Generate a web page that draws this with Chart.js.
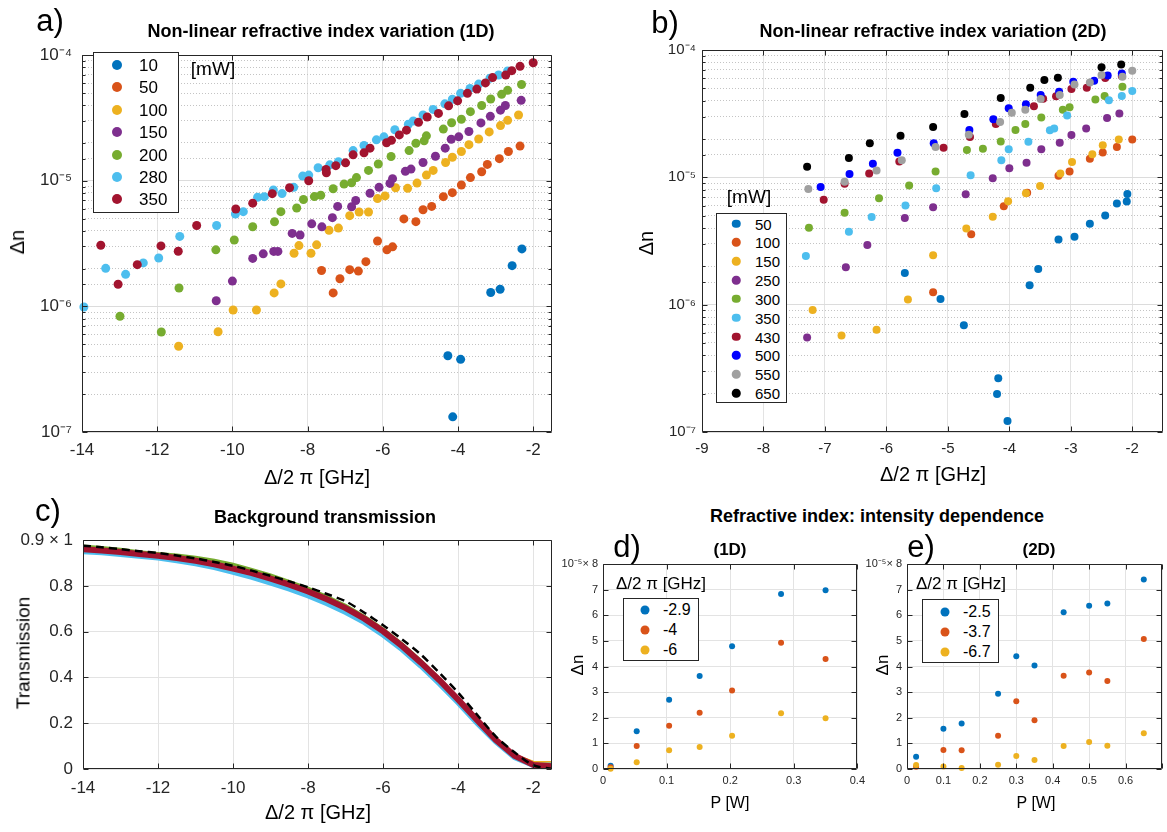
<!DOCTYPE html>
<html>
<head>
<meta charset="utf-8">
<title>Non-linear refractive index</title>
<script src="https://cdn.jsdelivr.net/npm/chart.js@4.4.1/dist/chart.umd.min.js"></script>
<style>
  body { margin: 0; background: #fff; }
  #fig { position: relative; width: 1167px; height: 832px; overflow: hidden; font-family: "Liberation Sans", Arial, sans-serif; color: #000; }
  #fig canvas { position: absolute; }
  .t { position: absolute; white-space: nowrap; line-height: 1; transform: translate(-50%, -50%); }
  .rot { transform: translate(-50%, -50%) rotate(-90deg); }
  .b { font-weight: bold; }
  .leg { position: absolute; background: #fff; border: 1px solid #262626; box-sizing: border-box; }
  .dot { position: absolute; border-radius: 50%; transform: translate(-50%, -50%); }
  .lab { position: absolute; transform: translateY(-50%); line-height: 1; white-space: nowrap; }
</style>
</head>
<body>
<div id="fig">
  <canvas id="chartA" width="565" height="435" style="left:0;top:35px"></canvas>
  <canvas id="chartB" width="567" height="435" style="left:600px;top:35px"></canvas>
  <canvas id="chartC" width="565" height="290" style="left:0;top:520px"></canvas>
  <canvas id="chartD" width="310" height="250" style="left:560px;top:550px"></canvas>
  <canvas id="chartE" width="301" height="250" style="left:866px;top:550px"></canvas>

  <div class="t" style="left:50px;top:20px;font-size:31px">a)</div>
  <div class="t b" style="left:321px;top:31px;font-size:18px">Non-linear refractive index variation (1D)</div>
  <div class="t" style="left:665px;top:22px;font-size:31px">b)</div>
  <div class="t b" style="left:933px;top:31px;font-size:18px">Non-linear refractive index variation (2D)</div>
  <div class="t rot" style="left:17px;top:242px;font-size:20px">Δn</div>
  <div class="t rot" style="left:646px;top:243px;font-size:20px">Δn</div>
  <div class="t" style="left:317px;top:477px;font-size:20px">Δ/2 π [GHz]</div>
  <div class="t" style="left:933px;top:474px;font-size:20px">Δ/2 π [GHz]</div>
  <div class="t" style="left:213px;top:68px;font-size:19px">[mW]</div>
  <div class="t" style="left:749px;top:196px;font-size:19px">[mW]</div>

  <div class="t" style="left:48px;top:510px;font-size:31px">c)</div>
  <div class="t b" style="left:325px;top:517px;font-size:18px">Background transmission</div>
  <div class="t rot" style="left:23px;top:653px;font-size:19px">Transmission</div>
  <div class="t" style="left:318px;top:812px;font-size:20px">Δ/2 π [GHz]</div>

  <div class="t b" style="left:877px;top:516px;font-size:18px">Refractive index: intensity dependence</div>
  <div class="t" style="left:627px;top:546px;font-size:31px">d)</div>
  <div class="t b" style="left:730px;top:549px;font-size:17px">(1D)</div>
  <div class="t" style="left:921px;top:546px;font-size:31px">e)</div>
  <div class="t b" style="left:1039px;top:549px;font-size:17px">(2D)</div>
  <div class="t rot" style="left:577px;top:665px;font-size:17px">Δn</div>
  <div class="t rot" style="left:882px;top:665px;font-size:17px">Δn</div>
  <div class="t" style="left:730px;top:803px;font-size:16px">P [W]</div>
  <div class="t" style="left:1036px;top:803px;font-size:16px">P [W]</div>
  <div class="t" style="left:661px;top:583px;font-size:17px">Δ/2 π [GHz]</div>
  <div class="t" style="left:961px;top:583px;font-size:17px">Δ/2 π [GHz]</div>
</div>
<script>
const FONT = '"Liberation Sans", Arial, sans-serif';

// ---- a) 1D: [detuning GHz, delta n], power in mW
const aPowers = ['10', '50', '100', '150', '200', '280', '350'];
const aColors = ['#0072BD', '#D95319', '#EDB120', '#7E2F8E', '#77AC30', '#4DBEEE', '#A2142F'];
const a10 = [[-4.27,4.05e-7],[-4.14,1.32e-7],[-3.93,3.79e-7],[-3.13,1.29e-6],[-2.88,1.37e-6],[-2.56,2.11e-6],[-2.30,2.87e-6]];
const a50 = [[-7.63,1.93e-6],[-7.32,1.28e-6],[-7.14,1.66e-6],[-6.88,1.96e-6],[-6.65,1.91e-6],[-6.45,2.27e-6],[-6.14,3.32e-6],[-5.89,2.82e-6],[-5.74,2.98e-6],[-5.44,4.97e-6],[-5.12,4.73e-6],[-4.93,5.88e-6],[-4.70,6.25e-6],[-4.39,7.48e-6],[-4.15,8.05e-6],[-3.91,9.25e-6],[-3.67,1.06e-5],[-3.37,1.18e-5],[-3.22,1.35e-5],[-2.90,1.50e-5],[-2.66,1.71e-5],[-2.35,1.89e-5]];
const a100 = [[-11.43,4.82e-7],[-10.38,6.28e-7],[-9.98,9.36e-7],[-9.36,9.36e-7],[-8.89,1.28e-6],[-8.71,1.51e-6],[-8.36,2.65e-6],[-8.23,3.05e-6],[-7.91,2.65e-6],[-7.76,3.09e-6],[-7.43,4.03e-6],[-7.18,4.20e-6],[-6.88,5.28e-6],[-6.63,5.64e-6],[-6.38,5.64e-6],[-6.14,7.22e-6],[-5.94,7.58e-6],[-5.66,8.81e-6],[-5.34,8.71e-6],[-5.09,9.59e-6],[-4.84,1.11e-5],[-4.66,1.21e-5],[-4.33,1.40e-5],[-4.15,1.54e-5],[-3.91,1.71e-5],[-3.71,1.94e-5],[-3.45,2.15e-5],[-3.17,2.45e-5],[-2.87,2.75e-5],[-2.68,3.03e-5],[-2.39,3.34e-5]];
const a150 = [[-10.43,1.11e-6],[-10.00,1.59e-6],[-9.46,2.41e-6],[-9.18,2.62e-6],[-8.90,2.74e-6],[-8.79,2.74e-6],[-8.41,3.81e-6],[-8.20,3.70e-6],[-7.89,4.54e-6],[-7.62,4.30e-6],[-7.34,5.09e-6],[-7.20,6.25e-6],[-6.83,6.21e-6],[-6.72,6.97e-6],[-6.34,7.96e-6],[-6.10,8.87e-6],[-5.81,9.53e-6],[-5.74,1.04e-5],[-5.40,1.19e-5],[-5.25,1.24e-5],[-4.93,1.40e-5],[-4.60,1.57e-5],[-4.34,1.82e-5],[-4.18,2.14e-5],[-3.98,2.24e-5],[-3.71,2.47e-5],[-3.39,2.89e-5],[-3.14,3.26e-5],[-2.87,3.65e-5],[-2.74,3.98e-5],[-2.32,4.37e-5]];
const a200 = [[-12.99,8.34e-7],[-11.89,6.25e-7],[-11.42,1.40e-6],[-10.44,2.82e-6],[-9.95,3.38e-6],[-9.46,4.31e-6],[-8.88,4.71e-6],[-8.71,5.68e-6],[-8.29,6.07e-6],[-8.11,7.10e-6],[-7.82,7.49e-6],[-7.65,7.67e-6],[-7.32,8.65e-6],[-7.03,9.42e-6],[-6.83,9.64e-6],[-6.70,1.06e-5],[-6.38,1.21e-5],[-6.12,1.36e-5],[-5.78,1.56e-5],[-5.30,1.74e-5],[-5.12,1.99e-5],[-4.90,2.08e-5],[-4.84,2.28e-5],[-4.39,2.58e-5],[-4.17,2.90e-5],[-3.91,3.09e-5],[-3.67,3.55e-5],[-3.37,3.98e-5],[-3.13,4.48e-5],[-2.84,4.88e-5],[-2.68,5.25e-5],[-2.31,5.85e-5]];
const a280 = [[-13.95,9.9e-7],[-13.37,2.01e-6],[-12.84,1.80e-6],[-12.37,2.22e-6],[-11.96,2.43e-6],[-11.40,3.61e-6],[-10.42,4.41e-6],[-9.92,5.44e-6],[-9.71,5.68e-6],[-9.33,7.40e-6],[-9.15,7.48e-6],[-8.91,8.45e-6],[-8.68,7.91e-6],[-8.37,8.87e-6],[-8.13,1.09e-5],[-7.97,1.11e-5],[-7.72,1.27e-5],[-7.41,1.34e-5],[-7.18,1.42e-5],[-6.79,1.74e-5],[-6.50,1.91e-5],[-6.17,2.12e-5],[-5.97,2.24e-5],[-5.68,2.55e-5],[-5.32,2.82e-5],[-5.19,2.99e-5],[-4.93,3.34e-5],[-4.66,3.70e-5],[-4.35,4.10e-5],[-4.15,4.46e-5],[-3.93,4.97e-5],[-3.68,5.44e-5],[-3.45,5.89e-5],[-3.15,6.56e-5],[-2.92,6.96e-5],[-2.68,7.48e-5]];
const a350 = [[-13.50,3.07e-6],[-13.04,1.50e-6],[-12.53,2.15e-6],[-11.90,3.03e-6],[-11.44,2.75e-6],[-10.95,4.41e-6],[-9.91,5.96e-6],[-9.46,6.64e-6],[-8.94,7.90e-6],[-8.48,8.81e-6],[-7.97,1.00e-5],[-7.51,1.23e-5],[-7.50,1.16e-5],[-7.25,1.32e-5],[-6.99,1.39e-5],[-6.79,1.61e-5],[-6.50,1.67e-5],[-6.34,1.82e-5],[-5.90,2.01e-5],[-5.77,2.10e-5],[-5.56,2.32e-5],[-5.37,2.53e-5],[-5.05,2.92e-5],[-4.82,3.22e-5],[-4.52,3.44e-5],[-4.25,3.95e-5],[-4.01,4.33e-5],[-3.75,4.97e-5],[-3.50,5.37e-5],[-3.27,6.02e-5],[-3.08,6.63e-5],[-2.73,6.96e-5],[-2.57,7.53e-5],[-2.35,8.15e-5],[-2.00,8.70e-5]];

// ---- b) 2D
const bPowers = ['50', '100', '150', '250', '300', '350', '430', '500', '550', '650'];
const bColors = ['#0072BD', '#D95319', '#EDB120', '#7E2F8E', '#77AC30', '#4DBEEE', '#A2142F', '#0000FF', '#A0A0A0', '#000000'];
const b50 = [[-5.70,1.77e-6],[-5.12,1.11e-6],[-4.74,6.90e-7],[-4.18,2.64e-7],[-4.20,1.99e-7],[-4.03,1.22e-7],[-3.67,1.42e-6],[-3.53,1.91e-6],[-3.20,3.25e-6],[-2.94,3.41e-6],[-2.69,4.32e-6],[-2.44,5.02e-6],[-2.25,6.24e-6],[-2.09,6.46e-6],[-2.08,7.41e-6]];
const b100 = [[-5.24,1.25e-6],[-4.62,3.57e-6],[-4.09,5.94e-6],[-3.71,7.55e-6],[-3.20,1.03e-5],[-3.02,1.11e-5],[-2.69,1.40e-5],[-2.48,1.57e-5],[-2.25,1.73e-5],[-2.00,1.98e-5]];
const b150 = [[-7.20,9.09e-7],[-6.73,5.73e-7],[-6.16,6.35e-7],[-5.65,1.10e-6],[-5.24,2.44e-6],[-4.70,3.96e-6],[-4.27,4.91e-6],[-4.02,6.50e-6],[-3.73,7.50e-6],[-3.50,8.56e-6],[-3.17,1.07e-5],[-2.98,1.32e-5],[-2.65,1.52e-5],[-2.48,1.79e-5],[-2.22,1.98e-5]];
const b250 = [[-7.29,5.53e-7],[-6.66,1.97e-6],[-6.31,2.94e-6],[-5.70,4.80e-6],[-5.24,5.83e-6],[-4.71,7.38e-6],[-4.27,9.82e-6],[-4.00,1.18e-5],[-3.72,1.30e-5],[-3.48,1.66e-5],[-3.18,1.87e-5],[-2.99,2.15e-5],[-2.75,2.42e-5],[-2.41,2.92e-5],[-2.21,3.17e-5]];
const b300 = [[-7.26,4.01e-6],[-6.68,5.27e-6],[-6.12,6.86e-6],[-5.63,8.61e-6],[-5.20,1.11e-5],[-4.69,1.64e-5],[-4.43,1.68e-5],[-4.14,1.91e-5],[-3.90,2.35e-5],[-3.74,2.62e-5],[-3.48,2.95e-5],[-3.13,3.40e-5],[-3.02,3.55e-5],[-2.60,4.08e-5],[-2.45,4.35e-5],[-2.16,5.15e-5]];
const b350 = [[-7.31,2.41e-6],[-6.61,3.73e-6],[-6.24,4.88e-6],[-5.69,6.01e-6],[-5.19,8.21e-6],[-4.63,1.04e-5],[-4.13,1.36e-5],[-4.01,1.66e-5],[-3.69,1.90e-5],[-3.34,2.34e-5],[-3.27,2.42e-5],[-3.06,3.06e-5],[-2.38,4.03e-5],[-2.17,4.35e-5],[-2.00,4.76e-5]];
const b430 = [[-7.02,6.66e-6],[-6.68,8.92e-6],[-6.28,1.07e-5],[-5.79,1.33e-5],[-5.07,1.71e-5],[-4.64,2.07e-5],[-4.22,2.62e-5],[-3.60,3.62e-5],[-3.45,4.15e-5],[-3.24,4.33e-5],[-2.99,4.94e-5],[-2.74,5.06e-5],[-2.44,6.02e-5],[-2.17,6.26e-5]];
const b500 = [[-7.07,8.41e-6],[-6.60,1.06e-5],[-6.22,1.28e-5],[-5.82,1.56e-5],[-5.23,1.85e-5],[-4.65,2.35e-5],[-4.26,2.86e-5],[-4.01,3.49e-5],[-3.73,3.75e-5],[-3.49,4.44e-5],[-3.19,4.71e-5],[-2.96,5.63e-5],[-2.62,5.73e-5],[-2.40,6.31e-5],[-2.17,6.54e-5]];
const b550 = [[-7.27,8.11e-6],[-6.68,9.25e-6],[-6.16,1.13e-5],[-5.75,1.36e-5],[-5.20,1.73e-5],[-4.66,2.16e-5],[-4.15,2.72e-5],[-3.96,3.21e-5],[-3.74,3.40e-5],[-3.49,4.13e-5],[-3.18,4.44e-5],[-2.94,5.37e-5],[-2.69,5.56e-5],[-2.50,6.35e-5],[-2.16,6.17e-5],[-2.00,6.86e-5]];
const b650 = [[-7.29,1.21e-5],[-6.61,1.42e-5],[-6.27,1.85e-5],[-5.77,2.12e-5],[-5.24,2.48e-5],[-4.73,3.15e-5],[-4.14,4.20e-5],[-3.66,5.06e-5],[-3.43,5.81e-5],[-3.21,6.05e-5],[-2.50,7.33e-5],[-2.18,7.69e-5]];

// ---- c) background transmission, sampled every 0.5 GHz
const cDet = [-14,-13.5,-13,-12.5,-12,-11.5,-11,-10.5,-10,-9.5,-9,-8.5,-8,-7.5,-7,-6.5,-6,-5.5,-5,-4.5,-4,-3.5,-3,-2.5,-2,-1.5];
const cT10  = [0.955,0.952,0.945,0.938,0.930,0.920,0.906,0.890,0.870,0.850,0.826,0.800,0.770,0.736,0.697,0.652,0.597,0.533,0.460,0.382,0.298,0.210,0.124,0.055,0.022,0.020];
const cT50  = [0.958,0.953,0.946,0.939,0.931,0.921,0.908,0.893,0.873,0.853,0.829,0.803,0.773,0.739,0.700,0.655,0.600,0.536,0.464,0.386,0.302,0.214,0.128,0.060,0.028,0.025];
const cT100 = [0.950,0.948,0.942,0.936,0.928,0.918,0.904,0.888,0.868,0.850,0.826,0.800,0.770,0.735,0.695,0.650,0.598,0.535,0.463,0.386,0.300,0.212,0.127,0.060,0.030,0.028];
const cT150 = [0.962,0.957,0.950,0.942,0.934,0.924,0.912,0.897,0.878,0.858,0.834,0.808,0.778,0.744,0.706,0.660,0.606,0.542,0.470,0.392,0.306,0.218,0.131,0.060,0.020,0.012];
const cT200 = [0.975,0.968,0.960,0.950,0.942,0.935,0.925,0.912,0.895,0.872,0.848,0.820,0.790,0.755,0.715,0.668,0.612,0.548,0.475,0.395,0.308,0.220,0.133,0.062,0.020,0.012];
const cT280 = [0.950,0.945,0.938,0.930,0.922,0.910,0.897,0.880,0.860,0.838,0.812,0.786,0.756,0.722,0.684,0.640,0.585,0.522,0.450,0.372,0.288,0.200,0.118,0.050,0.015,0.018];
const cT350 = [0.960,0.955,0.948,0.940,0.932,0.922,0.910,0.895,0.876,0.856,0.832,0.806,0.776,0.742,0.703,0.657,0.602,0.538,0.466,0.388,0.303,0.214,0.128,0.058,0.018,0.012];
const cFit  = [0.976,0.969,0.961,0.952,0.944,0.933,0.920,0.905,0.888,0.867,0.844,0.820,0.794,0.765,0.733,0.683,0.628,0.567,0.501,0.420,0.333,0.238,0.143,0.073,0.017,0.000];

// ---- d) 1D vs power, delta n in units of 1e-5
const dDet = ['-2.9', '-4', '-6'];
const dPow = [0.012, 0.053, 0.104, 0.152, 0.203, 0.28, 0.35];
const dN29 = [0.13, 1.47, 2.70, 3.63, 4.79, 6.83, 6.98];
const dN4  = [0.07, 0.90, 1.69, 2.20, 3.06, 4.93, 4.29];
const dN6  = [0.01, 0.26, 0.73, 0.86, 1.30, 2.18, 1.98];

// ---- e) 2D vs power
const eDet = ['-2.5', '-3.7', '-6.7'];
const ePow = [0.025, 0.1, 0.15, 0.25, 0.3, 0.35, 0.43, 0.5, 0.55, 0.65];
const eN25 = [0.48, 1.57, 1.78, 2.94, 4.40, 4.04, 6.12, 6.37, 6.46, 7.40];
const eN37 = [0.09, 0.74, 0.73, 1.30, 2.64, 1.90, 3.64, 3.77, 3.43, 5.07];
const eN67 = [0.16, 0.10, 0.04, 0.17, 0.51, 0.35, 0.90, 1.05, 0.91, 1.40];

const SUP = { '-': '⁻', '0': '⁰', '1': '¹', '2': '²', '3': '³', '4': '⁴', '5': '⁵', '6': '⁶', '7': '⁷', '8': '⁸', '9': '⁹' };

function isDecade(v) {
    if (!v) return false;
    const l = Math.log10(v);
    return Math.abs(l - Math.round(l)) < 1e-6;
}

function decadeLabel(v) {
    if (!isDecade(v)) return '';
    const e = String(Math.round(Math.log10(v)));
    return '10' + e.split('').map(c => SUP[c]).join('');
}

// one decimal, no float noise (0.30000000004 -> 0.3)
function tenths(v) {
    return String(Math.round(v * 10) / 10);
}

function pairs(arr) {
    return arr.map(p => ({ x: p[0], y: p[1] }));
}

function zipXY(xs, ys) {
    return xs.map((x, i) => ({ x, y: ys[i] }));
}

// box round the axes with MATLAB style inward ticks
const framePlugin = {
    id: 'frame',
    afterDraw(chart) {
        const { ctx, chartArea: a, scales } = chart;
        const L = Math.round(a.left) + 0.5, R = Math.round(a.right) - 0.5;
        const T = Math.round(a.top) + 0.5, B = Math.round(a.bottom) - 0.5;
        ctx.save();
        ctx.strokeStyle = '#262626';
        ctx.lineWidth = 1;
        ctx.beginPath();
        ctx.rect(L, T, R - L, B - T);
        scales.x.ticks.forEach(t => {
            const px = Math.round(scales.x.getPixelForValue(t.value)) + 0.5;
            ctx.moveTo(px, B); ctx.lineTo(px, B - 5);
            ctx.moveTo(px, T); ctx.lineTo(px, T + 5);
        });
        const logY = scales.y.type === 'logarithmic';
        scales.y.ticks.forEach(t => {
            const py = Math.round(scales.y.getPixelForValue(t.value)) + 0.5;
            const len = logY && !isDecade(t.value) ? 3 : 5;
            ctx.moveTo(L, py); ctx.lineTo(L + len, py);
            ctx.moveTo(R, py); ctx.lineTo(R - len, py);
        });
        ctx.stroke();
        ctx.restore();
    }
};

function xAxis(min, max, step, size, height, pad, cb) {
    return {
        type: 'linear', min, max,
        ticks: { stepSize: step, includeBounds: false, autoSkip: false, maxRotation: 0, padding: pad, color: '#262626',
                 font: { family: FONT, size }, callback: cb || (v => v) },
        grid: { color: '#e3e3e3', drawTicks: false },
        border: { display: false },
        afterFit: s => { s.height = height; }
    };
}

function logYAxis(size, width, pad) {
    return {
        type: 'logarithmic', min: 1e-7, max: 1e-4,
        ticks: { autoSkip: false, padding: pad, color: '#262626', font: { family: FONT, size }, callback: v => decadeLabel(v) },
        grid: { color: ctx => isDecade(ctx.tick && ctx.tick.value) ? '#dcdcdc' : '#c4c4c4', drawTicks: false },
        border: { display: false, dash: ctx => (ctx.tick && !isDecade(ctx.tick.value)) ? [1, 2] : [] },
        afterFit: s => { s.width = width; }
    };
}

function linYAxis(min, max, step, size, width, pad, cb) {
    return {
        type: 'linear', min, max,
        ticks: { stepSize: step, autoSkip: false, padding: pad, color: '#262626', font: { family: FONT, size }, callback: cb || (v => v) },
        grid: { color: '#e3e3e3', drawTicks: false },
        border: { display: false },
        afterFit: s => { s.width = width; }
    };
}

function scatterSets(series, colors, radius) {
    return series.map((data, i) => ({
        data,
        backgroundColor: colors[i],
        borderColor: colors[i],
        pointRadius: radius,
        pointBorderWidth: 0,
        showLine: false,
        order: -i,
        clip: 8
    }));
}

function makeChart(id, type, datasets, xs, ys, padding) {
    return new Chart(document.getElementById(id), {
        type,
        data: { datasets },
        options: {
            responsive: false,
            animation: false,
            events: [],
            layout: { padding },
            plugins: { legend: { display: false }, tooltip: { enabled: false } },
            scales: { x: xs, y: ys }
        },
        plugins: [framePlugin]
    });
}

function makeLegend(spec) {
    const box = document.createElement('div');
    box.className = 'leg';
    Object.assign(box.style, { left: spec.left + 'px', top: spec.top + 'px', width: spec.w + 'px', height: spec.h + 'px' });
    spec.labels.forEach((txt, i) => {
        const cy = spec.first + i * spec.step;
        const dot = document.createElement('span');
        dot.className = 'dot';
        Object.assign(dot.style, { left: spec.dotX + 'px', top: cy + 'px', width: spec.d + 'px', height: spec.d + 'px', background: spec.colors[i] });
        const lab = document.createElement('span');
        lab.className = 'lab';
        lab.textContent = txt;
        Object.assign(lab.style, { left: spec.textX + 'px', top: cy + 'px', fontSize: spec.font + 'px' });
        box.append(dot, lab);
    });
    document.getElementById('fig').appendChild(box);
}

// a)
makeChart('chartA', 'scatter',
    scatterSets([a10, a50, a100, a150, a200, a280, a350].map(pairs), aColors, 4.5),
    xAxis(-14, -1.5, 2, 17, 38, 8),
    logYAxis(17, 82, 10),
    { left: 0, top: 15, right: 13, bottom: 0 });

// b)
makeChart('chartB', 'scatter',
    scatterSets([b50, b100, b150, b250, b300, b350, b430, b500, b550, b650].map(pairs), bColors, 4),
    xAxis(-9, -1.5, 1, 15, 38, 8),
    logYAxis(15, 102, 6),
    { left: 0, top: 12, right: 2, bottom: 0 });

// c)
const cSeries = [cT10, cT50, cT100, cT150, cT200, cT280, cT350];
const cWidths = [3, 3, 3, 3, 3, 5, 6];
const cSets = cSeries.map((vals, i) => ({
    data: zipXY(cDet, vals),
    borderColor: aColors[i],
    borderWidth: cWidths[i],
    pointRadius: 0,
    showLine: true,
    tension: 0,
    order: -i
}));
cSets.push({
    data: zipXY(cDet, cFit),
    borderColor: '#000000',
    borderWidth: 2.5,
    borderDash: [8, 5],
    pointRadius: 0,
    showLine: true,
    tension: 0.3,
    order: -10
});
makeChart('chartC', 'scatter', cSets,
    xAxis(-14, -1.5, 2, 17, 41, 9),
    linYAxis(0, 1, 0.2, 17, 83, 10, v => (v === 1 ? '0.9 × 1' : tenths(v))),
    { left: 0, top: 13, right: 13, bottom: 0 });

// d)
makeChart('chartD', 'scatter',
    scatterSets([dN29, dN4, dN6].map(ys => zipXY(dPow, ys)), aColors, 3),
    xAxis(0, 0.4, 0.1, 11, 31, 5, v => tenths(v)),
    linYAxis(0, 8, 1, 11, 43, 5, v => (v === 8 ? '10⁻⁵× 8' : v)),
    { left: 0, top: 14, right: 12, bottom: 0 });

// e)
makeChart('chartE', 'scatter',
    scatterSets([eN25, eN37, eN67].map(ys => zipXY(ePow, ys)), aColors, 3),
    xAxis(0, 0.7, 0.1, 11, 31, 5, v => (Math.round(v * 10) >= 7 ? '' : tenths(v))),
    linYAxis(0, 8, 1, 11, 41, 5, v => (v === 8 ? '10⁻⁵× 8' : v)),
    { left: 0, top: 14, right: 3, bottom: 0 });

// legends
makeLegend({ labels: aPowers, colors: aColors, left: 93, top: 52, w: 86, h: 161, first: 12, step: 22.4, dotX: 23, textX: 45, d: 10, font: 17 });
makeLegend({ labels: bPowers, colors: bColors, left: 716, top: 213, w: 71, h: 190, first: 9.5, step: 18.85, dotX: 19, textX: 38, d: 8.5, font: 15 });
makeLegend({ labels: dDet, colors: aColors, left: 623, top: 598, w: 76, h: 63, first: 11, step: 20, dotX: 21, textX: 39, d: 9, font: 16 });
makeLegend({ labels: eDet, colors: aColors, left: 922, top: 599, w: 77, h: 64, first: 11.5, step: 20, dotX: 22, textX: 40, d: 9, font: 16 });
</script>
</body>
</html>
